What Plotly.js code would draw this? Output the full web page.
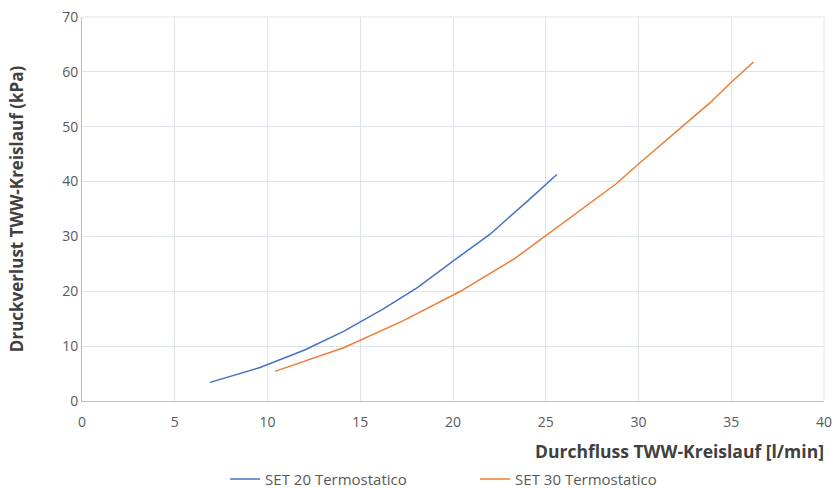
<!DOCTYPE html>
<html>
<head>
<meta charset="utf-8">
<script src="https://cdn.plot.ly/plotly-3.0.1.min.js"></script>
<style>html,body{margin:0;padding:0;background:#fff;}#chart{width:835px;height:488px;}</style>
</head>
<body>
<div id="chart"></div>
<script>
const set20Name = "SET 20 Termostatico";
const set20Flow = [6.9, 9.6, 12.0, 14.1, 16.2, 18.1, 20.0, 22.0, 24.0, 25.6];
const set20Loss = [3.4, 6.1, 9.3, 12.7, 16.7, 20.7, 25.5, 30.4, 36.4, 41.3];

const set30Name = "SET 30 Termostatico";
const set30Flow = [10.4, 14.1, 17.3, 20.4, 23.3, 25.0, 28.8, 30.0, 33.8, 35.0, 36.2];
const set30Loss = [5.4, 9.7, 14.6, 20.0, 25.9, 30.1, 39.6, 43.2, 54.2, 58.1, 61.8];

const xTitle = "Durchfluss TWW-Kreislauf [l/min]";
const yTitle = "Druckverlust TWW-Kreislauf (kPa)";

const data = [
  {x: set20Flow, y: set20Loss, name: set20Name, type: "scatter", mode: "lines",
   line: {color: "#4472C4", width: 1.5}},
  {x: set30Flow, y: set30Loss, name: set30Name, type: "scatter", mode: "lines",
   line: {color: "#ED7D31", width: 1.5}}
];

const layout = {
  width: 835, height: 488,
  margin: {l: 82, r: 11, t: 17, b: 87},
  paper_bgcolor: "#fff", plot_bgcolor: "#fff",
  font: {family: "'Open Sans', sans-serif", color: "#595959", size: 14},
  showlegend: true,
  legend: {orientation: "h", xref: "container", yref: "container", x: 0.569, xanchor: "center",
           y: 0.018, yanchor: "middle",
           font: {size: 15, color: "#595959"}, itemwidth: 30, tracegroupgap: 0,
           entrywidth: 205, entrywidthmode: "pixels"},
  xaxis: {range: [0, 40], dtick: 5, tick0: 0, showgrid: true, gridcolor: "#DFE3EB", gridwidth: 1,
          zeroline: false, showline: true, linecolor: "#B7BFCF", linewidth: 1, mirror: false,
          ticks: "", ticklabelstandoff: 8, tickfont: {color: "#595959", size: 14}, fixedrange: true},
  yaxis: {range: [0, 70], dtick: 10, tick0: 0, showgrid: true, gridcolor: "#DFE3EB", gridwidth: 1,
          zeroline: false, showline: true, linecolor: "#B7BFCF", linewidth: 1,
          ticks: "", ticklen: 0, tickfont: {color: "#595959", size: 14},
          title: {text: "<b>" + yTitle + "</b>", font: {size: 17, color: "#404040"}, standoff: 34}},
  shapes: [
    {type: "line", xref: "paper", yref: "paper", x0: 0, x1: 1, y0: 1, y1: 1,
     line: {color: "#DFE3EB", width: 1}},
    {type: "line", xref: "paper", yref: "paper", x0: 1, x1: 1, y0: 0, y1: 1,
     line: {color: "#DFE3EB", width: 1}}
  ],
  annotations: [
    {text: "<b>" + xTitle + "</b>", xref: "paper", yref: "paper", x: 1.003, y: 0, xanchor: "right",
     yanchor: "top", yshift: -36, showarrow: false, font: {size: 17.5, color: "#404040"}}
  ]
};

Plotly.newPlot("chart", data, layout, {displayModeBar: false, staticPlot: true});
</script>
</body>
</html>
